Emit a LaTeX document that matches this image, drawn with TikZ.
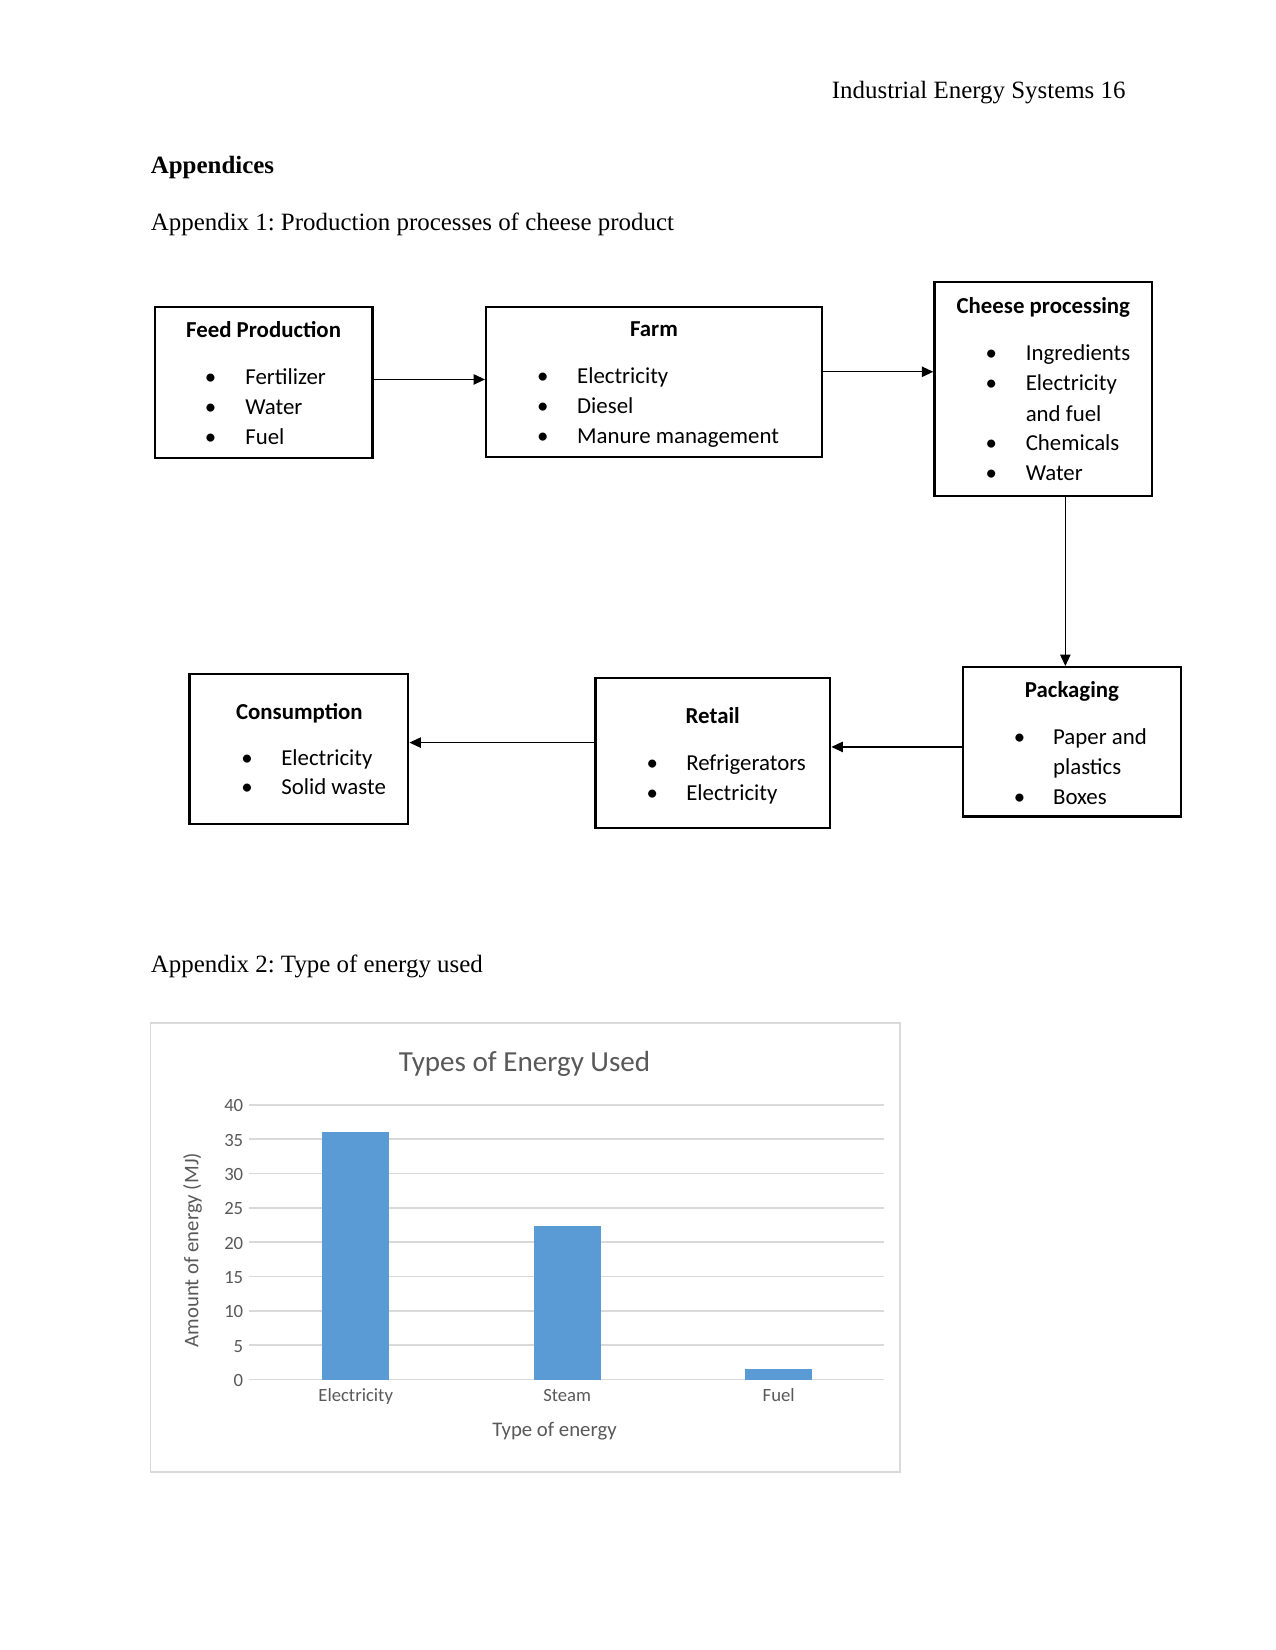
\documentclass[tikz,border=0pt]{standalone}
\usepackage{fontspec}
\setmainfont{Liberation Serif}
\newfontfamily\carlito{Carlito}
\usetikzlibrary{arrows.meta}
\definecolor{txtgray}{HTML}{595959}
\definecolor{gridgray}{HTML}{D9D9D9}
\definecolor{barblue}{HTML}{5B9BD5}
\def\U{0.50495bp}
\frenchspacing
\newcommand\bline[5]{%
  \node[bul] (#1b) at (#2,#4) {\textbullet};
  \node[itm] (#1) at (#3,#4) {#5};}
\begin{document}
\begin{tikzpicture}[x=0.50495bp, y=-0.50495bp,
  box/.style={draw, line width=1.1bp, inner sep=0},
  ttl/.style={font=\carlito\bfseries\fontsize{11}{13}\selectfont, anchor=base, inner sep=0},
  itm/.style={font=\carlito\fontsize{11}{13}\selectfont, anchor=base west, inner sep=0},
  bul/.style={font=\carlito\fontsize{11}{13}\selectfont, anchor=base, inner sep=0},
  body/.style={font=\fontsize{12}{14}\selectfont, anchor=base west, inner sep=0},
  arr/.style={line width=0.6bp, -{Triangle[length=5.5bp,width=5bp]}},
  ctxt/.style={font=\carlito\fontsize{9}{11}\selectfont, text=txtgray, inner sep=0},
  grid/.style={draw=gridgray, line width=0.75bp}]
\useasboundingbox[fill=white] (0,0) rectangle (1212,1568);

% page texts
\node[body, anchor=base east] (hdr) at (1070,94) {Industrial Energy Systems 16};
\node[body, font=\fontsize{12}{14}\selectfont\bfseries] (appx) at (143,165) {Appendices};
\node[body] (ap1) at (143,219) {Appendix 1: Production processes of cheese product};
\node[body] (ap2) at (143,924) {Appendix 2: Type of energy used};

% boxes
\node[box, minimum width=207*\U, minimum height=143*\U] (feed) at (250.5,363.5) {};
\node[box, minimum width=319*\U, minimum height=142.5*\U] (farm) at (621.5,362.75) {};
\node[box, minimum width=207*\U, minimum height=203.5*\U] (cheese) at (991.5,369.75) {};
\node[box, minimum width=207*\U, minimum height=142*\U] (pack) at (1018.5,705) {};
\node[box, minimum width=223*\U, minimum height=142.5*\U] (retail) at (677.5,715.75) {};
\node[box, minimum width=208*\U, minimum height=142.5*\U] (cons) at (284,711.75) {};

% feed
\node[ttl] (feedt) at (250.5,320.7) {Feed Production};
\bline{f1}{200}{232.8}{365}{Fertilizer}
\bline{f2}{200}{232.8}{393.6}{Water}
\bline{f3}{200}{232.8}{422.1}{Fuel}
% farm
\node[ttl] (farmt) at (621.5,320) {Farm};
\bline{m1}{515.9}{548.1}{364.4}{Electricity}
\bline{m2}{515.9}{548.1}{392.9}{Diesel}
\bline{m3}{515.9}{548.1}{421.5}{Manure management}
% cheese
\node[ttl] (cheeset) at (991.5,298) {Cheese processing};
\bline{c1}{942}{974.4}{342.3}{Ingredients}
\bline{c2}{942}{974.4}{371.4}{Electricity}
\node[itm] (c2b2) at (974.4,400.6) {and fuel};
\bline{c3}{942}{974.4}{428.4}{Chemicals}
\bline{c4}{942}{974.4}{456.3}{Water}
% packaging
\node[ttl] (packt) at (1018.7,662.9) {Packaging};
\bline{p1}{969}{1000.4}{707.3}{Paper and}
\node[itm] (p1b2) at (1000.4,735.8) {plastics};
\bline{p2}{969}{1000.4}{764.3}{Boxes}
% retail
\node[ttl] (retailt) at (677.3,687.3) {Retail};
\bline{r1}{619.8}{651.8}{732.6}{Refrigerators}
\bline{r2}{619.8}{651.8}{760.5}{Electricity}
% consumption
\node[ttl] (const) at (284.5,683.5) {Consumption};
\bline{s1}{234.8}{266.9}{727.9}{Electricity}
\bline{s2}{234.8}{266.9}{755.4}{Solid waste}

% connectors
\draw[arr] (feed.east |- 0,360.6) -- (farm.west |- 0,360.6);
\draw[arr] (farm.east |- 0,353.3) -- (cheese.west |- 0,353.3);
\draw[arr] (cheese.south -| 1012.4,0) -- (pack.north -| 1012.4,0);
\draw[arr] (pack.west |- 0,709.8) -- (retail.east |- 0,709.8);
\draw[arr] (retail.west |- 0,705.7) -- (cons.east |- 0,705.7);

% chart
\draw[draw=gridgray, line width=0.75bp] (143,972) rectangle (855,1399);
\node[ctxt, font=\carlito\fontsize{14}{16}\selectfont, anchor=base] (ctitle) at (498.5,1018) {Types of Energy Used};
\foreach \k in {0,...,8}{
  \draw[grid] (237,{1311-\k*32.625}) -- (840,{1311-\k*32.625});
  \pgfmathtruncatemacro\lab{5*\k}
  \node[ctxt, anchor=east] (tick\k) at (231.5,{1311.8-\k*32.625}) {\lab};
}
\fill[barblue] (306,1311) rectangle (370,1075.4);
\fill[barblue] (507,1311) rectangle (571,1165.5);
\fill[barblue] (708,1311) rectangle (772,1300.6);
\node[ctxt, anchor=base] (cat1) at (338,1332) {Electricity};
\node[ctxt, anchor=base] (cat2) at (539,1332) {Steam};
\node[ctxt, anchor=base] (cat3) at (740,1332) {Fuel};
\node[ctxt, font=\carlito\fontsize{10}{12}\selectfont, anchor=base] (xtitle) at (527,1365) {Type of energy};
\node[ctxt, font=\carlito\fontsize{10}{12}\selectfont, rotate=90] (ytitle) at (183,1188) {Amount of energy (MJ)};
\end{tikzpicture}
\end{document}
